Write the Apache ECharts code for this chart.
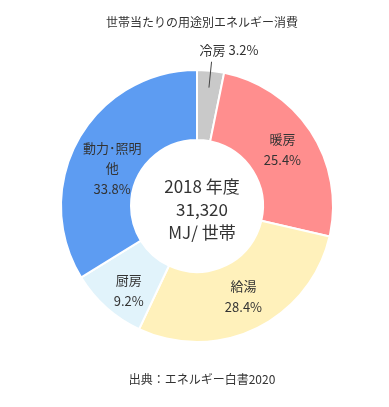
<!DOCTYPE html>
<html><head><meta charset="utf-8">
<script src="https://cdn.jsdelivr.net/npm/echarts@6/dist/echarts.min.js"></script>
<style>html,body{margin:0;padding:0;background:#fff}#c{width:389px;height:407px}</style>
</head><body><div id="c"></div>
<script>
const categories = ['冷房', '暖房', '給湯', '厨房', '動力･照明\n他'];
const shares = [3.2, 25.4, 28.4, 9.2, 33.8];
const colors = ['#c9c9c9', '#ff8e8e', '#fff1bb', '#e1f3fb', '#5d9cf2'];
const titleText = '世帯当たりの用途別エネルギー消費';
const centerLines = ['2018 年度', '31,320', 'MJ/ 世帯'];
const sourceText = '出典：エネルギー白書2020';

const FONT = '"Noto Sans CJK JP", "Noto Sans", sans-serif';
const CX = 197, CY = 206;
// per-slice label nudges (layout only)
const labelNudge = [[0, 0], [-2, 0], [1, -3], [1, 7], [6, 13]];

const data = categories.map((c, i) => ({
  name: c, value: shares[i], itemStyle: { color: colors[i] },
  label: i === 0 ? { show: false } : undefined
}));
const outsideData = categories.map((c, i) => ({
  name: c, value: shares[i],
  label: { show: i === 0 },
  labelLine: { show: i === 0 }
}));

const chart = echarts.init(document.getElementById('c'), null, { renderer: 'canvas' });
chart.setOption({
  animation: false,
  title: [
    { text: titleText, left: CX, top: 11, textAlign: 'center',
      textStyle: { fontFamily: FONT, fontSize: 12, fontWeight: 'normal', color: '#333' } },
    { text: centerLines.join('\n'), left: CX, top: CY - 36, textAlign: 'center',
      textStyle: { fontFamily: FONT, fontSize: 17, fontWeight: 'normal', color: '#333', lineHeight: 23 } },
    { text: sourceText, left: CX, top: 368, textAlign: 'center',
      textStyle: { fontFamily: FONT, fontSize: 12, fontWeight: 'normal', color: '#333' } }
  ],
  series: [
    {
      type: 'pie', center: [CX, CY], radius: [66, 136], startAngle: 90, clockwise: true,
      silent: true,
      itemStyle: { borderColor: '#fff', borderWidth: 2 },
      label: {
        show: true, position: 'inside', fontFamily: FONT, fontSize: 13, color: '#333',
        lineHeight: 20.5, align: 'center',
        formatter: p => p.name + '\n' + p.value.toFixed(1) + '%'
      },
      labelLine: { show: false },
      labelLayout: function (p) { const n = labelNudge[p.dataIndex]; return { dx: n[0], dy: n[1] }; },
      data: data
    },
    {
      type: 'pie', center: [CX, CY], radius: [0, 119], startAngle: 90, clockwise: true,
      silent: true, z: 3,
      itemStyle: { color: 'rgba(0,0,0,0)' },
      label: {
        position: 'outside', fontFamily: FONT, fontSize: 13, color: '#333',
        distanceToLabelLine: 0,
        formatter: p => p.name + ' ' + p.value.toFixed(1) + '%'
      },
      labelLine: { length: 26, length2: 0, lineStyle: { color: '#444', width: 1 } },
      labelLayout: function () { return { dx: -12, dy: -12 }; },
      data: outsideData
    }
  ]
});
</script></body></html>
